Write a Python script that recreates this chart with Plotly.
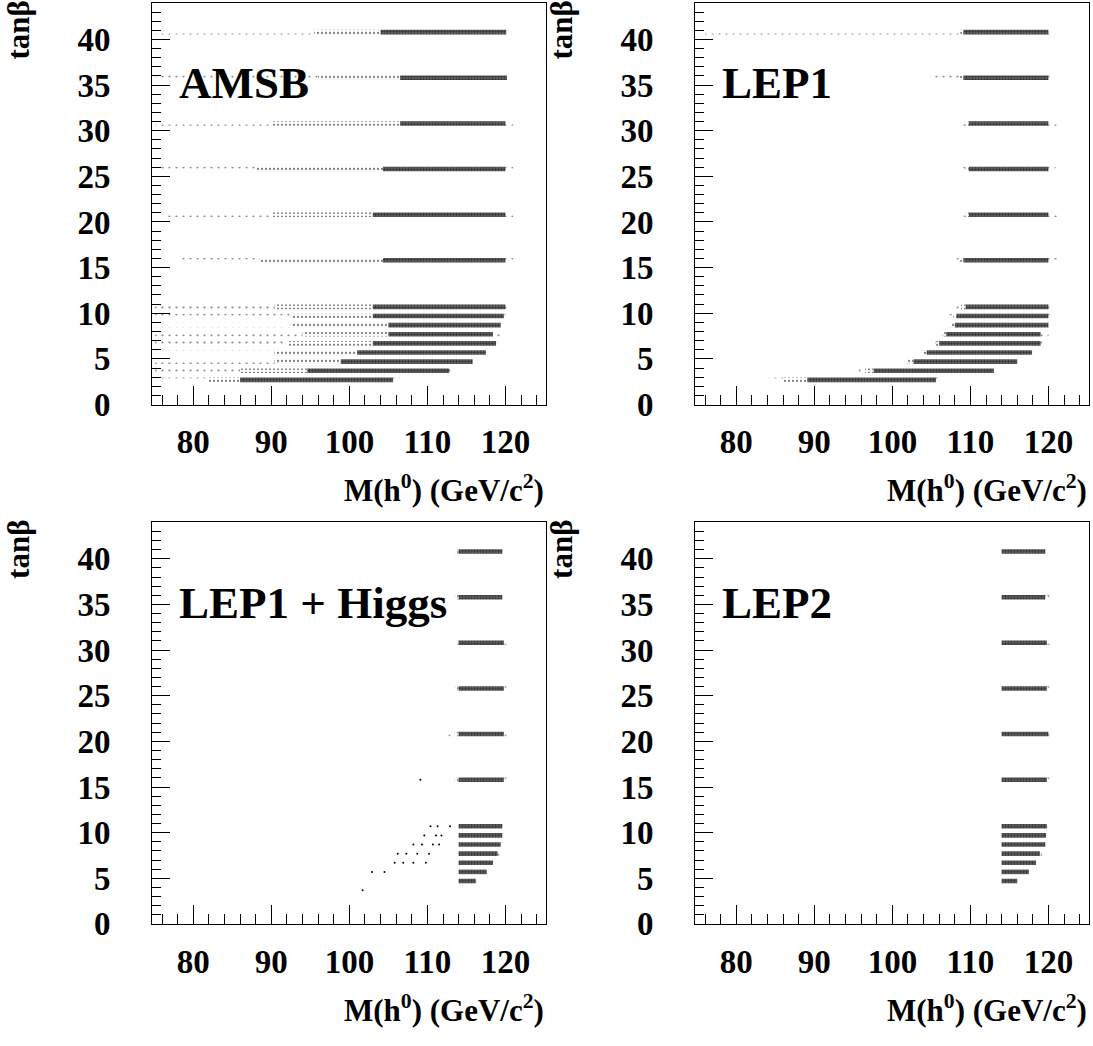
import plotly.graph_objects as go

# ---------------- data ----------------
TANB = [2.7, 3.7, 4.7, 5.7, 6.7, 7.7, 8.7, 9.7, 10.7, 15.8, 20.8, 25.8, 30.8, 35.8, 40.8]

# per band: first sparse point, start of medium density, start of dense core,
# end of dense core, last stray point  (M(h0) in GeV/c^2); None = no band
AMSB_START = [75.1, 75.1, 75.1, 75.1, 75.1, 75.1, 75.1, 75.1, 75.1, 78.1, 76.5, 75.2, 75.2, 75.2, 75.2]
AMSB_MED   = [82.0, 86.0, 90.4, 90.4, 92.0, 94.0, 92.5, 92.5, 90.4, 88.5, 90.2, 88.0, 90.0, 96.0, 95.5]
AMSB_DENSE = [86.0, 94.6, 98.9, 101.0, 103.0, 105.0, 105.0, 103.0, 103.0, 104.3, 103.0, 104.3, 106.5, 106.5, 104.0]
AMSB_END   = [105.6, 112.8, 115.8, 117.5, 118.8, 118.4, 119.4, 119.8, 120.0, 120.0, 120.0, 120.0, 120.0, 120.2, 120.1]
AMSB_TAIL  = [106.5, 113.0, 116.0, 117.7, 119.0, 119.4, 119.6, 120.0, 120.2, 121.0, 121.0, 121.0, 121.0, 120.4, 120.3]

LEP1_START = [84.2, 95.7, 101.4, 103.3, 105.2, 106.1, 107.1, 107.3, 108.2, 108.2, 109.1, 108.9, 108.9, 104.9, 76.0]
LEP1_MED   = [86.0, 96.5, 102.0, 104.0, 105.6, 106.5, 107.6, 107.8, 108.8, 108.7, 109.4, 109.4, 109.4, 108.5, 108.7]
LEP1_DENSE = [89.1, 97.6, 102.7, 104.4, 106.0, 106.9, 108.0, 108.2, 109.4, 109.1, 109.8, 109.8, 109.8, 109.1, 109.1]
LEP1_END   = [105.6, 113.0, 116.0, 117.9, 119.0, 119.0, 120.0, 120.0, 120.0, 120.0, 120.0, 120.0, 120.0, 120.0, 120.0]
LEP1_TAIL  = [106.0, 113.2, 116.2, 118.1, 119.2, 120.0, 120.2, 120.2, 120.2, 121.1, 121.1, 120.9, 121.1, 120.2, 120.3]

LEPH_START = [None, None, 114.0, 114.0, 114.0, 114.0, 114.0, 114.0, 114.0, 113.0, 112.1, 113.3, 113.8, 113.1, 113.1]
LEPH_MED   = [None, None, 114.0, 114.0, 114.0, 114.0, 114.0, 114.0, 114.0, 113.5, 113.5, 113.6, 113.9, 113.6, 113.6]
LEPH_DENSE = [None, None, 114.0, 114.0, 114.0, 114.0, 114.0, 114.0, 114.0, 114.0, 114.0, 114.0, 114.0, 114.0, 114.0]
LEPH_END   = [None, None, 116.2, 117.6, 118.4, 119.0, 119.4, 119.6, 119.6, 119.8, 119.8, 119.8, 119.8, 119.6, 119.6]
LEPH_TAIL  = [None, None, 116.3, 117.9, 118.6, 119.3, 119.7, 119.8, 119.8, 120.5, 120.5, 120.4, 120.3, 119.8, 119.8]
# isolated points in the "LEP1 + Higgs" panel
LEPH_STRAY_M = [101.7, 102.9, 104.5, 105.8, 106.9, 108.2, 109.8, 106.2, 107.3, 108.7, 110.2,
                108.2, 109.3, 110.7, 111.5, 109.6, 111.1, 111.8, 110.4, 111.3, 112.9, 109.1]
LEPH_STRAY_T = [3.7, 5.7, 5.7, 6.7, 6.7, 6.7, 6.7, 7.7, 7.7, 7.7, 7.7,
                8.7, 8.7, 8.7, 8.7, 9.7, 9.7, 9.7, 10.7, 10.7, 10.7, 15.8]

LEP2_START = [None, None, 114.0, 114.0, 114.0, 114.0, 114.0, 114.0, 114.0, 114.0, 114.0, 114.0, 114.0, 114.0, 114.0]
LEP2_MED   = [None, None, 114.0, 114.0, 114.0, 114.0, 114.0, 114.0, 114.0, 114.0, 114.0, 114.0, 114.0, 114.0, 114.0]
LEP2_DENSE = [None, None, 114.0, 114.0, 114.0, 114.0, 114.0, 114.0, 114.0, 114.0, 114.0, 114.0, 114.0, 114.0, 114.0]
LEP2_END   = [None, None, 116.0, 117.5, 118.4, 118.9, 119.6, 119.7, 119.8, 119.8, 120.0, 119.8, 119.8, 119.6, 119.6]
LEP2_TAIL  = [None, None, 116.1, 117.6, 118.5, 119.2, 119.7, 119.8, 119.9, 120.5, 120.6, 120.5, 120.5, 120.3, 119.8]

PANEL_LABELS = ["AMSB", "LEP1", "LEP1 + Higgs", "LEP2"]
X_TICKS = [80, 90, 100, 110, 120]
Y_TICKS = [0, 5, 10, 15, 20, 25, 30, 35, 40]

# ---------------- layout constants ----------------
W, H = 1093, 1046
FRAMES = [(152, 546, 3, 412), (695, 1089, 3, 412), (152, 546, 532, 941), (695, 1089, 532, 941)]
XRANGE = [74.7, 125.2]
YRANGE = [0, 44]
FONT = "Liberation Serif"
BAND_W = 0.5

STYLES = {
    "sparse": dict(shape=".", fgcolor="#111111", bgcolor="rgba(255,255,255,0)", size=7, solidity=0.08),
    "medium": dict(shape=".", fgcolor="#000000", bgcolor="rgba(255,255,255,0)", size=4, solidity=0.25),
    "dense": dict(shape=".", fgcolor="#000000", bgcolor="#6a6a6a", size=3, solidity=0.5),
}

fig = go.Figure()

panels = [
    (AMSB_START, AMSB_MED, AMSB_DENSE, AMSB_END, AMSB_TAIL),
    (LEP1_START, LEP1_MED, LEP1_DENSE, LEP1_END, LEP1_TAIL),
    (LEPH_START, LEPH_MED, LEPH_DENSE, LEPH_END, LEPH_TAIL),
    (LEP2_START, LEP2_MED, LEP2_DENSE, LEP2_END, LEP2_TAIL),
]


def add_segments(i, lo_list, hi_list, style):
    ys, xs, bases = [], [], []
    for t, lo, hi in zip(TANB, lo_list, hi_list):
        if lo is None or hi is None or hi - lo <= 0:
            continue
        ys.append(t)
        bases.append(lo)
        xs.append(hi - lo)
    if not ys:
        return
    sfx = "" if i == 0 else str(i + 1)
    fig.add_trace(go.Bar(
        orientation="h", y=ys, x=xs, base=bases, width=BAND_W,
        marker=dict(color="rgba(0,0,0,0)", line=dict(width=0), pattern=STYLES[style]),
        xaxis="x" + sfx, yaxis="y" + sfx, showlegend=False, hoverinfo="skip",
    ))


for i, (st, md, dn, en, tl) in enumerate(panels):
    add_segments(i, st, md, "sparse")
    add_segments(i, md, dn, "medium")
    add_segments(i, dn, en, "dense")
    add_segments(i, en, tl, "sparse")

fig.add_trace(go.Scatter(
    x=LEPH_STRAY_M, y=LEPH_STRAY_T, mode="markers",
    marker=dict(size=2, color="black", line=dict(width=0)),
    xaxis="x3", yaxis="y3", showlegend=False, hoverinfo="skip",
))

layout = dict(
    width=W, height=H, margin=dict(l=0, r=0, t=0, b=0),
    paper_bgcolor="white", plot_bgcolor="white", barmode="overlay",
    showlegend=False, annotations=[],
)

tickfont = dict(family=FONT, size=33, color="black", weight="bold")
for i, (l, r, t, b) in enumerate(FRAMES):
    sfx = "" if i == 0 else str(i + 1)
    layout["xaxis" + sfx] = dict(
        domain=[l / W, r / W], anchor="y" + sfx, range=XRANGE,
        tickvals=X_TICKS, ticktext=[str(v) for v in X_TICKS],
        ticks="inside", ticklen=19, tickwidth=1, tickcolor="black",
        minor=dict(dtick=2, tick0=0, ticks="inside", ticklen=10, tickwidth=1, tickcolor="black"),
        showline=True, linecolor="black", linewidth=1, mirror=True,
        showgrid=False, zeroline=False, tickfont=tickfont, ticklabelstandoff=8,
    )
    layout["yaxis" + sfx] = dict(
        domain=[1 - b / H, 1 - t / H], anchor="x" + sfx, range=YRANGE,
        tickvals=Y_TICKS, ticktext=[str(v) for v in Y_TICKS],
        ticks="inside", ticklen=18, tickwidth=1, tickcolor="black",
        minor=dict(dtick=1, tick0=0, ticks="inside", ticklen=9, tickwidth=1, tickcolor="black"),
        showline=True, linecolor="black", linewidth=1, mirror=True,
        showgrid=False, zeroline=False, tickfont=tickfont, ticklabelstandoff=34,
    )
    # panel label
    layout["annotations"].append(dict(
        text=PANEL_LABELS[i], xref="paper", yref="paper",
        x=(l + 25) / W, y=1 - (t + 82) / H, xanchor="left", yanchor="middle",
        showarrow=False, font=dict(family=FONT, size=45, color="black", weight="bold"),
    ))
    # x title
    layout["annotations"].append(dict(
        text="M(h<sup>0</sup>) (GeV/c<sup>2</sup>)", xref="paper", yref="paper",
        x=r / W, y=1 - (b + 86) / H, xanchor="right", yanchor="middle",
        showarrow=False, font=dict(family=FONT, size=31, color="black", weight="bold"),
    ))
    # y title
    layout["annotations"].append(dict(
        text="tanβ", xref="paper", yref="paper", textangle=-90,
        x=(l - 133) / W, y=1 - (t - 4) / H, xanchor="center", yanchor="top",
        showarrow=False, font=dict(family=FONT, size=31, color="black", weight="bold"),
    ))

fig.update_layout(**layout)
fig.write_html("out.html")
